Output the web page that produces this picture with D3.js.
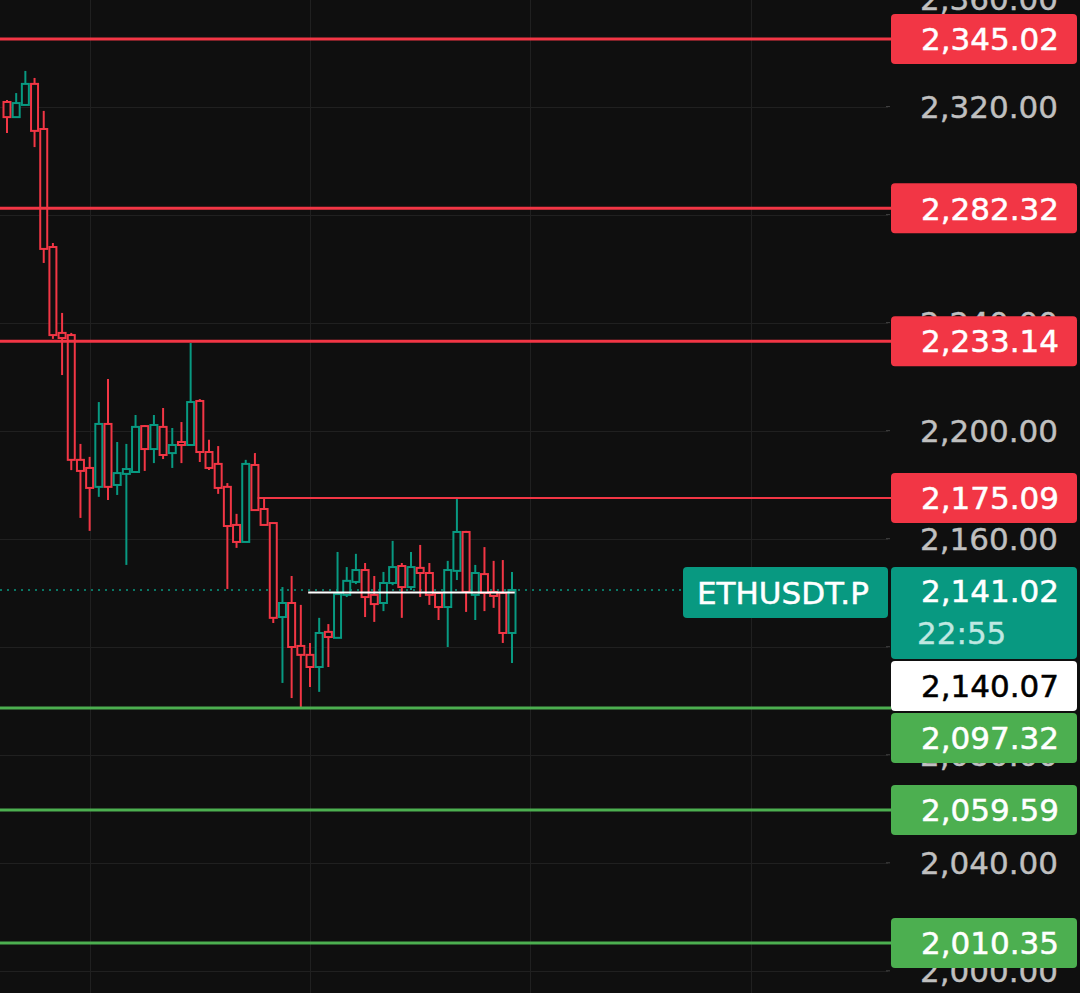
<!DOCTYPE html>
<html>
<head>
<meta charset="utf-8">
<script src="https://cdn.jsdelivr.net/npm/d3@7"></script>
<style>
  html, body { margin: 0; padding: 0; background: #0f0f0f; }
  svg { display: block; }
</style>
</head>
<body>
<div id="chart"></div>
<script>
// ---------------- DATA ----------------
const opens  = [2321.7,2316.1,2320.6,2328.4,2311.7,2268.0,2236.2,2235.4,2189.2,2186.2,
                2179.2,2202.5,2179.9,2184.0,2184.7,2201.7,2193.2,2201.4,2191.7,2195.8,
                2194.7,2211.0,2192.1,2187.7,2179.2,2165.1,2158.8,2187.3,2171.0,2165.8,
                2131.0,2136.2,2120.3,2117.0,2112.5,2125.5,2123.3,2139.2,2144.0,2148.4,
                2139.2,2136.2,2143.6,2149.9,2142.1,2149.2,2147.3,2139.9,2134.7,2148.1,
                2162.5,2139.2,2146.9,2140.3,2139.9,2125.1];
const closes = [2316.1,2321.3,2328.4,2311.0,2267.3,2235.4,2234.3,2189.2,2185.1,2178.8,
                2202.5,2179.2,2184.3,2185.8,2201.4,2193.2,2202.1,2191.0,2194.7,2195.4,
                2210.6,2192.1,2186.2,2178.8,2164.7,2158.8,2187.7,2170.6,2165.1,2130.7,
                2136.2,2119.9,2117.0,2112.5,2125.1,2123.6,2139.5,2144.4,2148.4,2138.4,
                2135.8,2143.6,2149.5,2142.1,2149.5,2147.3,2139.2,2134.7,2148.4,2162.5,
                2140.3,2147.3,2139.9,2138.8,2125.1,2141.02];
const highs  = [2322.4,2325.0,2333.2,2330.6,2318.4,2269.5,2243.6,2236.2,2195.1,2190.3,
                2210.6,2219.1,2195.8,2195.1,2205.8,2202.1,2205.8,2208.4,2201.0,2203.2,
                2232.5,2211.7,2196.6,2194.3,2180.6,2169.2,2189.2,2191.7,2175.09,2165.8,
                2142.1,2146.2,2135.5,2121.4,2130.7,2128.4,2155.1,2149.5,2154.4,2151.0,
                2146.2,2147.7,2159.2,2151.0,2155.1,2157.7,2151.0,2140.3,2151.8,2175.09,
                2162.9,2150.3,2156.9,2151.8,2152.1,2147.7];
const lows   = [2310.2,2316.1,2320.6,2305.0,2262.1,2234.0,2220.6,2185.4,2167.7,2162.9,
                2175.5,2174.3,2176.2,2150.3,2184.7,2185.1,2188.0,2189.5,2186.2,2188.0,
                2194.7,2188.4,2185.4,2176.6,2141.4,2156.6,2158.8,2170.6,2165.1,2128.8,
                2106.6,2101.0,2097.32,2105.1,2103.3,2112.5,2123.3,2138.4,2143.2,2131.0,
                2129.2,2133.2,2142.8,2130.7,2141.0,2138.4,2135.5,2129.9,2119.9,2144.7,
                2132.9,2129.9,2133.2,2134.4,2121.4,2114.0];

const resistanceLevels = [2345.02, 2282.32, 2233.14, 2175.09];
const supportLevels    = [2097.32, 2059.59, 2010.35];
const priceTicks = [2360, 2320, 2280, 2240, 2200, 2160, 2120, 2080, 2040, 2000];
const timeGridIdx = [9, 33, 57, 81];
const lastPrice = 2141.02;
const markPrice = 2140.07;
const symbol = "ETHUSDT.P";
const countdown = "22:55";

// ---------------- LAYOUT ----------------
const W = 1080, H = 993;
const plotRight = 888;
const boxX = 891, boxW = 186;
const BG = "#0f0f0f", RED = "#f23645", TEAL = "#089981", LGREEN = "#4caf50";
const GRID = "#202020", TXT = "#c0c0c0";
const FONT = "'DejaVu Sans', sans-serif";
const fmt = d3.format(",.2f");

const svg = d3.select("#chart").append("svg")
  .attr("width", W).attr("height", H)
  .style("background", BG);

const y = d3.scaleLinear().domain([2359.46, 1991.8]).range([0, H]);
const x = d3.scaleLinear().domain([0, 55]).range([7, 512]);

const candles = opens.map((o, i) => ({ i, o, c: closes[i], h: highs[i], l: lows[i] }));

// axis label layout (stacking boxes so they do not overlap)
const labels = [
  ...resistanceLevels.map(v => ({ v, bg: RED, fg: "#ffffff", h: 50, off: 25 })),
  { v: lastPrice, bg: TEAL, fg: "#ffffff", h: 92, off: 23, extra: countdown },
  { v: markPrice, bg: "#ffffff", fg: "#000000", h: 50, off: 25 },
  ...supportLevels.map(v => ({ v, bg: LGREEN, fg: "#ffffff", h: 50, off: 25 }))
].sort((a, b) => b.v - a.v);
let prevBottom = -Infinity;
labels.forEach(l => {
  let top = y(l.v) - l.off;
  if (top < prevBottom + 2) top = prevBottom + 2;
  l.top = top;
  prevBottom = top + l.h;
});
// tick labels fully hidden behind a box are not drawn
const visibleTicks = priceTicks.filter(t => {
  const ty = y(t);
  return !labels.some(l => l.top <= ty - 12 && l.top + l.h >= ty + 12);
});

// grid
const grid = svg.append("g");
grid.selectAll("line.h").data(priceTicks).enter().append("line")
  .attr("x1", 0).attr("x2", plotRight)
  .attr("y1", d => Math.round(y(d)) + 0.5).attr("y2", d => Math.round(y(d)) + 0.5)
  .attr("stroke", GRID).attr("stroke-width", 1);
grid.selectAll("line.v").data(timeGridIdx).enter().append("line")
  .attr("x1", d => Math.round(x(d)) + 0.5).attr("x2", d => Math.round(x(d)) + 0.5)
  .attr("y1", 0).attr("y2", H)
  .attr("stroke", GRID).attr("stroke-width", 1);

// price axis tick labels
const axisG = svg.append("g");
axisG.selectAll("text").data(visibleTicks).enter().append("text")
  .attr("x", 1058).attr("y", d => y(d))
  .attr("dy", "0.36em")
  .attr("text-anchor", "end")
  .attr("fill", TXT)
  .attr("stroke", TXT).attr("stroke-width", 0.4)
  .style("font-family", FONT).style("font-size", "31px")
  .text(d => fmt(d));
axisG.selectAll("line").data(priceTicks).enter().append("line")
  .attr("x1", plotRight - 2).attr("x2", plotRight + 2)
  .attr("y1", d => y(d)).attr("y2", d => y(d))
  .attr("stroke", "#444").attr("stroke-width", 1);

// last price dotted line
svg.append("line")
  .attr("x1", 0).attr("x2", plotRight)
  .attr("y1", y(lastPrice)).attr("y2", y(lastPrice))
  .attr("stroke", TEAL).attr("stroke-width", 1.5)
  .attr("stroke-dasharray", "2,5");

// candles
const cg = svg.append("g");
const cs = cg.selectAll("g").data(candles).enter().append("g");
cs.append("line")
  .attr("x1", d => x(d.i)).attr("x2", d => x(d.i))
  .attr("y1", d => y(d.h)).attr("y2", d => y(d.l))
  .attr("stroke", d => d.c >= d.o ? TEAL : RED)
  .attr("stroke-width", 2);
cs.append("rect")
  .attr("x", d => x(d.i) - 3.5)
  .attr("width", 7)
  .attr("y", d => y(Math.max(d.o, d.c)))
  .attr("height", d => Math.max(3, Math.abs(y(d.o) - y(d.c))))
  .attr("fill", BG)
  .attr("stroke", d => d.c >= d.o ? TEAL : RED)
  .attr("stroke-width", 2);

// mark price white line
svg.append("line")
  .attr("x1", x(32.8)).attr("x2", x(55.3))
  .attr("y1", y(markPrice)).attr("y2", y(markPrice))
  .attr("stroke", "#ffffff").attr("stroke-width", 2);

// level lines
const levels = [
  ...resistanceLevels.map(v => ({ v, color: RED })),
  ...supportLevels.map(v => ({ v, color: LGREEN }))
];
svg.append("g").selectAll("line").data(levels).enter().append("line")
  .attr("x1", d => d.v === 2175.09 ? x(27.3) : 0)
  .attr("x2", boxX)
  .attr("y1", d => y(d.v)).attr("y2", d => y(d.v))
  .attr("stroke", d => d.color)
  .attr("stroke-width", d => d.v === 2175.09 ? 2 : 3);

// symbol label
const symTop = y(lastPrice) - 23;
svg.append("rect")
  .attr("x", 683).attr("y", symTop).attr("width", 205).attr("height", 51)
  .attr("rx", 4).attr("fill", TEAL);
svg.append("text")
  .attr("x", 697).attr("y", symTop + 25.5).attr("dy", "0.36em")
  .attr("fill", "#ffffff").attr("stroke", "#ffffff").attr("stroke-width", 0.5)
  .style("font-family", FONT).style("font-size", "31px")
  .text(symbol);

// axis price labels
const lg = svg.append("g").selectAll("g").data(labels).enter().append("g");
lg.append("rect")
  .attr("x", boxX).attr("y", d => d.top)
  .attr("width", boxW).attr("height", d => d.h)
  .attr("rx", 4).attr("fill", d => d.bg);
lg.append("text")
  .attr("x", 1059)
  .attr("y", d => d.top + (d.extra ? 24 : 25))
  .attr("dy", "0.36em")
  .attr("text-anchor", "end")
  .attr("fill", d => d.fg)
  .attr("stroke", d => d.fg).attr("stroke-width", 0.5)
  .style("font-family", FONT).style("font-size", "31px")
  .text(d => fmt(d.v));
lg.filter(d => d.extra).append("text")
  .attr("x", 917)
  .attr("y", d => d.top + 66)
  .attr("dy", "0.36em")
  .attr("fill", "#bfe8e1").attr("stroke", "#bfe8e1").attr("stroke-width", 0.4)
  .style("font-family", FONT).style("font-size", "31px")
  .text(d => d.extra);
</script>
</body>
</html>
